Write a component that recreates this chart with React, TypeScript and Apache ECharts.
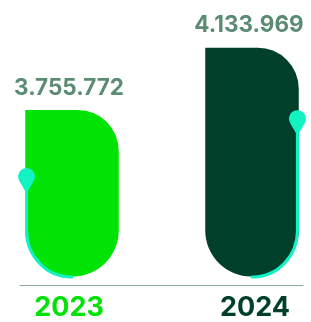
import React, { useEffect, useRef } from "react";
import * as echarts from "echarts";

const categories = ["2023", "2024"];
const values = [3755772, 4133969];
const markerShare = [0.6, 0.69];
const yMin = 2745000;
const yMax = 4134000;

const barColors = ["#00E304", "#00402A"];
const labelColors = ["#00E304", "#00402A"];
const accentColor = "#12F2C2";
const valueColor = "#5B8C73";
const lineSides = ["left", "right"];

function fmt(n: number): string {
  return String(n).replace(/\B(?=(\d{3})+(?!\d))/g, ".");
}

export default function App() {
  const ref = useRef<HTMLDivElement>(null);
  useEffect(() => {
    if (!ref.current) return;
    const chart = echarts.init(ref.current, null, { renderer: "svg" });
    const W = 93.5;
    const rTop = 41;
    const rBot = 46;
    const PR = 8.5;
    chart.setOption({
      animation: false,
      grid: [
        { left: 72, right: 59, top: 47.7, bottom: 45.5 },
        { left: 20, right: 8, top: 270, bottom: 37 },
      ],
      xAxis: [
        {
          gridIndex: 0,
          type: "category",
          data: categories,
          boundaryGap: false,
          axisLine: { show: false },
          axisTick: { show: false },
          axisLabel: {
            margin: 16,
            fontSize: 27,
            fontWeight: "bold",
            fontFamily: "Inter",
            formatter: (v: string, i: number) => (i === 0 ? `{a|${v}}` : `{b|${v}}`),
            rich: {
              a: { fontSize: 27, fontWeight: "bold", fontFamily: "Inter", color: labelColors[0], padding: [0, 6, 0, 0] },
              b: { fontSize: 27, fontWeight: "bold", fontFamily: "Inter", color: labelColors[1], padding: [0, 0, 0, 6] },
            },
          },
        },
        {
          gridIndex: 1,
          type: "value",
          min: 0,
          max: 1,
          axisLine: { show: true, onZero: false, lineStyle: { color: "#8DA898", width: 1 } },
          axisTick: { show: false },
          axisLabel: { show: false },
          splitLine: { show: false },
        },
      ],
      yAxis: [
        { gridIndex: 0, type: "value", min: yMin, max: yMax, show: false },
        { gridIndex: 1, type: "value", show: false },
      ],
      series: [
        {
          type: "custom",
          xAxisIndex: 0,
          yAxisIndex: 0,
          clip: false,
          data: values.map((v, i) => [i, v]),
          renderItem: (params: any, api: any) => {
            const idx = api.value(0);
            const val = api.value(1);
            const top = api.coord([idx, val]);
            const base = api.coord([idx, yMin]);
            const cx = top[0];
            const T = top[1];
            const B = base[1];
            const L = cx - W / 2;
            const R = cx + W / 2;
            const side = lineSides[idx];
            const headY = B - markerShare[idx] * (B - T);
            const c30 = Math.cos(Math.PI / 6);
            let linePath = "";
            let ex = 0;
            if (side === "left") {
              ex = L + 1.3;
              const rx = rBot - 1.3;
              const ry = rBot + 0.5;
              linePath = `M ${ex} ${headY} L ${ex} ${B - rBot} A ${rx} ${ry} 0 0 0 ${ex + rx} ${B + 0.5} L ${cx} ${B + 0.5}`;
            } else {
              ex = R - 1.3;
              const rx = rBot - 1.3;
              const ry = rBot + 0.5;
              linePath = `M ${ex} ${headY} L ${ex} ${B - rBot} A ${rx} ${ry} 0 0 1 ${ex - rx} ${B + 0.5} L ${cx} ${B + 0.5}`;
            }
            const pinPath = `M ${ex} ${headY + 2 * PR} L ${ex + PR * c30} ${headY + PR / 2} A ${PR} ${PR} 0 1 0 ${ex - PR * c30} ${headY + PR / 2} Z`;
            return {
              type: "group",
              children: [
                {
                  type: "rect",
                  shape: { x: L, y: T, width: W, height: B - T, r: [0, rTop, rBot, rBot] },
                  style: { fill: barColors[idx] },
                },
                {
                  type: "path",
                  shape: { pathData: linePath },
                  style: { fill: "none", stroke: accentColor, lineWidth: 3, lineCap: "round" },
                },
                {
                  type: "path",
                  shape: { pathData: pinPath },
                  style: { fill: accentColor, stroke: "none" },
                },
                {
                  type: "text",
                  x: cx - 3,
                  y: T - 24,
                  style: {
                    text: fmt(val),
                    fill: valueColor,
                    font: "700 22.5px Inter",
                    align: "center",
                    verticalAlign: "middle",
                  },
                },
              ],
            };
          },
        },
      ],
    });
    return () => chart.dispose();
  }, []);
  return <div ref={ref} style={{ position: "fixed", left: 0, top: 0, width: 311, height: 322 }} />;
}
